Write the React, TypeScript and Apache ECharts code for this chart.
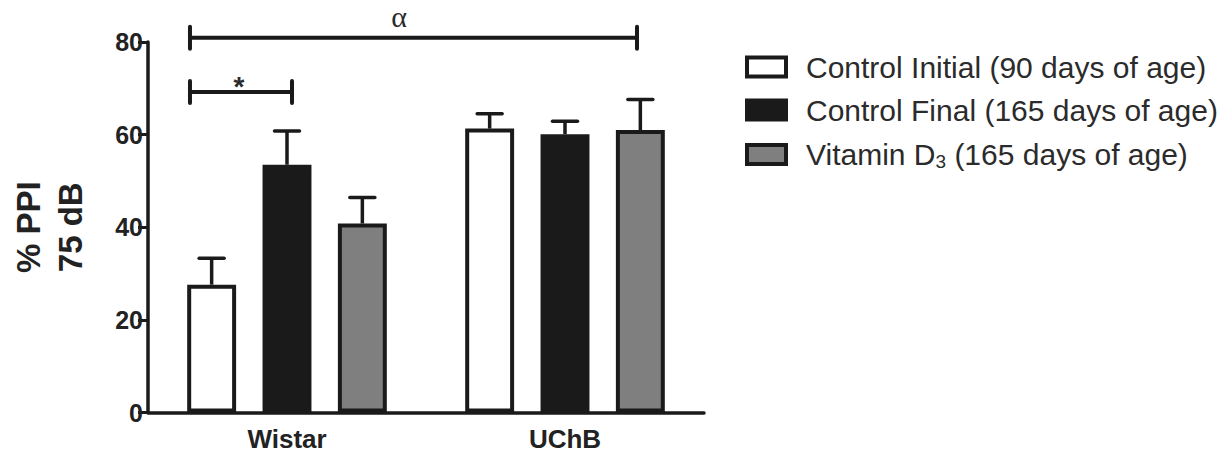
import React, { useEffect, useRef } from "react";
import * as echarts from "echarts";

const categories = ["Wistar", "UChB"];
const seriesNames = [
  "Control Initial (90 days of age)",
  "Control Final (165 days of age)",
  "Vitamin D3 (165 days of age)",
];
const controlInitial = [27.6, 61.3];
const controlFinal = [53.5, 60.1];
const vitaminD3 = [40.8, 61.0];
const controlInitialSem = [5.7, 3.2];
const controlFinalSem = [7.3, 2.8];
const vitaminD3Sem = [5.6, 6.6];
const yMin = 0;
const yMax = 80;
const yInterval = 20;
// significance brackets: ends and label position in category units, height in % PPI
const brackets = [
  { x1: -0.349, x2: 0.018, y: 69.2, label: "*", labelX: -0.173 },
  { x1: -0.349, x2: 1.259, y: 80.9, label: "α", labelX: 0.403 },
];

const fills = ["#ffffff", "#1a1a1a", "#7f7f7f"];
const INK = "#1a1a1a";
const BAR_W = 0.176; // fraction of band
const BAR_GAP = 0.54; // fraction of bar width

export default function App() {
  const ref = useRef<HTMLDivElement>(null);
  useEffect(() => {
    if (!ref.current) return;
    const chart = echarts.init(ref.current, null, { renderer: "svg" });
    const means = [controlInitial, controlFinal, vitaminD3];
    const sems = [controlInitialSem, controlFinalSem, vitaminD3Sem];
    const barSeries = seriesNames.map((name, i) => ({
      name,
      type: "bar",
      data: means[i],
      barWidth: BAR_W * 100 + "%",
      barGap: BAR_GAP * 100 + "%",
      itemStyle: { color: fills[i], borderColor: INK, borderWidth: 4 },
      z: 3,
    }));
    const errData: number[][] = [];
    means.forEach((m, s) =>
      m.forEach((v, c) => errData.push([c, v, v + sems[s][c], s]))
    );
    const step = BAR_W * (1 + BAR_GAP);
    const option: any = {
      animation: false,
      textStyle: { fontFamily: "Liberation Sans, Arial, sans-serif" },
      grid: { left: 148, right: 514, top: 42, bottom: 50.5, containLabel: false },
      legend: {
        orient: "vertical",
        left: 740,
        top: 47,
        itemWidth: 39,
        itemHeight: 19,
        itemGap: 13,
        icon: "rect",
        data: seriesNames,
        itemStyle: { borderWidth: 4, borderColor: INK },
        textStyle: {
          fontSize: 30,
          color: "#2b2b2b",
          lineHeight: 30,
          padding: [0, 0, 0, 15],
          rich: {
            sub: { fontSize: 19, lineHeight: 30, padding: [14, 0, 0, 0], color: "#2b2b2b" },
          },
        },
        formatter: (n: string) => n.replace("D3", "D{sub|3}"),
      },
      xAxis: {
        type: "category",
        data: categories,
        axisLine: { lineStyle: { color: INK, width: 3.5 } },
        axisTick: { alignWithLabel: true, length: 10, lineStyle: { color: INK, width: 3 } },
        axisLabel: { fontSize: 26, fontWeight: "bold", color: "#222", margin: 13 },
      },
      yAxis: {
        type: "value",
        min: yMin,
        max: yMax,
        interval: yInterval,
        splitLine: { show: false },
        axisLine: { show: true, lineStyle: { color: INK, width: 3.5 } },
        axisTick: { show: true, length: 10, lineStyle: { color: INK, width: 3 } },
        axisLabel: { fontSize: 25, fontWeight: "bold", color: "#222", margin: 5 },
        name: "% PPI\n75 dB",
        nameLocation: "middle",
        nameGap: 57,
        nameTextStyle: { fontSize: 33, fontWeight: "bold", color: "#222", lineHeight: 42 },
      },
      series: [
        ...barSeries,
        {
          type: "custom",
          name: "sem",
          data: errData,
          z: 4,
          renderItem: (params: any, api: any) => {
            const c = api.value(0);
            const v = api.value(1);
            const e = api.value(2);
            const s = api.value(3);
            const base = api.coord([c, v]);
            const top = api.coord([c, e]);
            const band = api.size([1, 0])[0];
            const x = base[0] + (s - 1) * band * step;
            const half = 12.5;
            const st = { stroke: INK, lineWidth: 3.5, lineCap: "butt" };
            return {
              type: "group",
              children: [
                { type: "line", shape: { x1: x, y1: base[1], x2: x, y2: top[1] }, style: st },
                { type: "line", shape: { x1: x - half, y1: top[1], x2: x + half, y2: top[1] }, style: { ...st, lineCap: "round" } },
              ],
            };
          },
        },
        {
          type: "custom",
          name: "sig",
          data: brackets.map((b) => [0, b.y]),
          z: 5,
          clip: false,
          renderItem: (params: any, api: any) => {
            const b = brackets[params.dataIndex];
            const p = api.coord([0, b.y]);
            const band = api.size([1, 0])[0];
            const xa = p[0] + b.x1 * band;
            const xb = p[0] + b.x2 * band;
            const xl = p[0] + b.labelX * band;
            const y = p[1];
            const st = { stroke: INK, lineWidth: 4, lineCap: "round" };
            const isAlpha = b.label === "α";
            return {
              type: "group",
              children: [
                { type: "line", shape: { x1: xa, y1: y, x2: xb, y2: y }, style: { ...st, lineCap: "butt" } },
                { type: "line", shape: { x1: xa, y1: y - 11, x2: xa, y2: y + 11 }, style: st },
                { type: "line", shape: { x1: xb, y1: y - 11, x2: xb, y2: y + 11 }, style: st },
                {
                  type: "text",
                  style: {
                    text: b.label,
                    x: xl,
                    y: isAlpha ? 16 : y - 6,
                    align: "center",
                    verticalAlign: "middle",
                    lineHeight: isAlpha ? 30 : 28,
                    fill: "#2b2b2b",
                    font: isAlpha
                      ? "30px 'Liberation Serif', 'Times New Roman', serif"
                      : "bold 28px 'Liberation Sans', Arial, sans-serif",
                  },
                },
              ],
            };
          },
        },
      ],
    };
    chart.setOption(option);
    return () => chart.dispose();
  }, []);
  return (
    <div
      ref={ref}
      style={{ position: "fixed", left: 0, top: 0, width: 1218, height: 463, background: "#fff" }}
    />
  );
}
